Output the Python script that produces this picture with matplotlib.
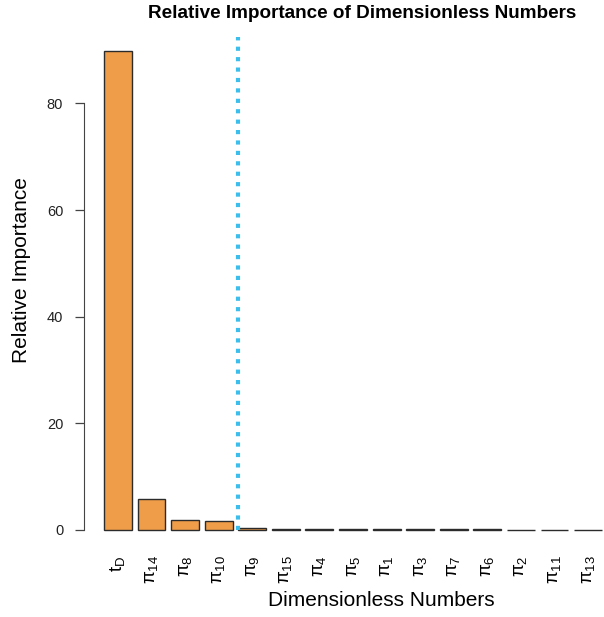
import matplotlib.pyplot as plt
import numpy as np

plt.rcParams['font.family'] = ['Liberation Sans', 'DejaVu Sans']
plt.rcParams['mathtext.fontset'] = 'custom'
plt.rcParams['mathtext.rm'] = 'Liberation Sans'
plt.rcParams['mathtext.it'] = 'Liberation Sans'

labels = [r'$\mathrm{t_D}$', r'$\pi_{14}$', r'$\pi_{8}$', r'$\pi_{10}$', r'$\pi_{9}$',
          r'$\pi_{15}$', r'$\pi_{4}$', r'$\pi_{5}$', r'$\pi_{1}$', r'$\pi_{3}$',
          r'$\pi_{7}$', r'$\pi_{6}$', r'$\pi_{2}$', r'$\pi_{11}$', r'$\pi_{13}$']
importance = [89.9, 5.8, 1.8, 1.7, 0.4, 0.12, 0.1, 0.1, 0.1, 0.1, 0.1, 0.1, 0.03, 0.03, 0.03]
cutoff = 5.0  # separator between retained and dropped numbers

W, H = 604, 617
fig = plt.figure(figsize=(W / 100, H / 100), dpi=100)

# barplot-style coordinates: width 1, space 0.2
x = 0.7 + 1.2 * np.arange(len(importance))
xlim = (-0.512, 18.712)
ymax = 90.0
ylim = (-0.04 * ymax, 1.04 * ymax)

px_left, px_right = 84, 622
px_top, px_bottom = 31, 549
ax = fig.add_axes([px_left / W, 1 - px_bottom / H,
                   (px_right - px_left) / W, (px_bottom - px_top) / H])

ax.bar(x, importance, width=1.0, color='#F09D4A', edgecolor='#2b2b2b', linewidth=1.0)
ax.plot([cutoff, cutoff], [0, 92.5], color='#3BBEEC', linewidth=3.0,
        linestyle=(0, (1, 1.5)), solid_capstyle='butt')

ax.set_xlim(*xlim)
ax.set_ylim(*ylim)

for s in ['top', 'right', 'bottom']:
    ax.spines[s].set_visible(False)
ax.spines['left'].set_bounds(0, 80)
ax.spines['left'].set_color('#444444')
ax.set_yticks([0, 20, 40, 60, 80])
ax.tick_params(axis='y', length=6.5, width=0.9, color='#444444', labelsize=10.5,
               labelcolor='#222222', pad=8.5)

ax.set_xticks(x)
ax.set_xticklabels(labels, rotation=90, fontsize=13.5)
ax.tick_params(axis='x', length=0, pad=4.5)
for t in ax.get_xticklabels():
    t.set_verticalalignment('top')
    t.set_horizontalalignment('center')

fig.text(362 / W, 1 - 13 / H, 'Relative Importance of Dimensionless Numbers',
         ha='center', va='center', fontsize=13.6, fontweight='bold')
fig.text(381 / W, 1 - 600 / H, 'Dimensionless Numbers', ha='center', va='center', fontsize=15)
fig.text(22 / W, 1 - 270 / H, 'Relative Importance', ha='center', va='center',
         rotation=90, fontsize=15)

fig.savefig('out.png', dpi=100)
